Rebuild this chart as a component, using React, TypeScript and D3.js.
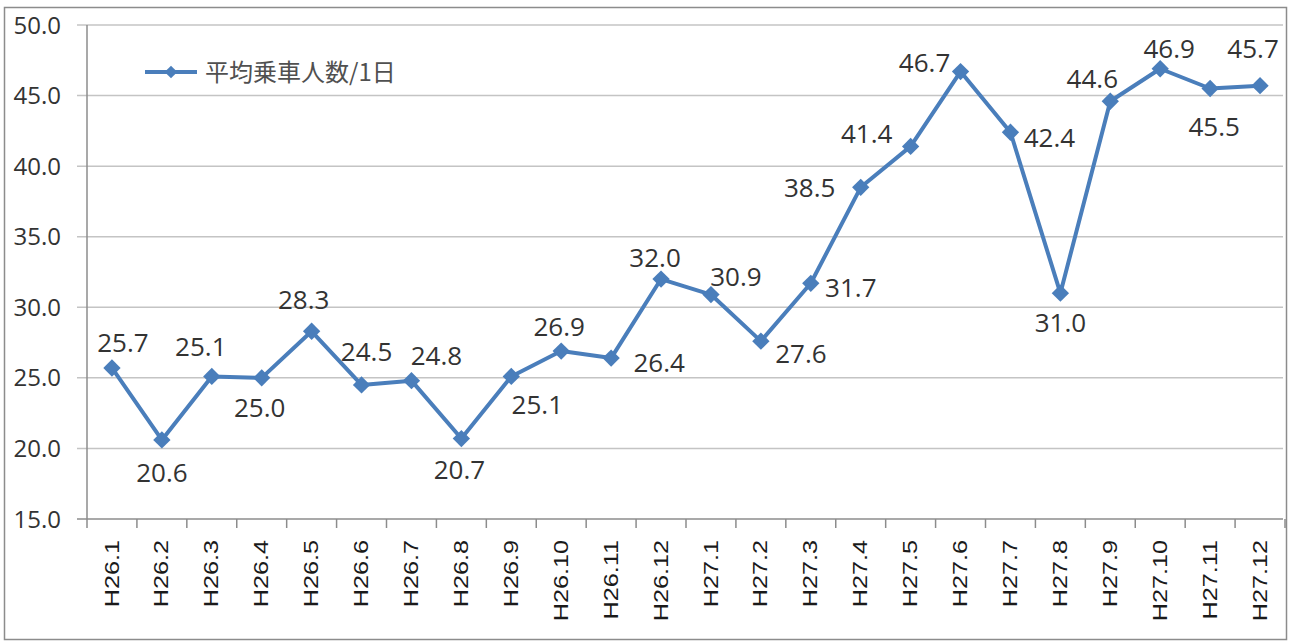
import React, { useEffect, useRef } from 'react';
import * as d3 from 'd3';

const months = [
  'H26.1', 'H26.2', 'H26.3', 'H26.4', 'H26.5', 'H26.6', 'H26.7', 'H26.8', 'H26.9', 'H26.10', 'H26.11', 'H26.12',
  'H27.1', 'H27.2', 'H27.3', 'H27.4', 'H27.5', 'H27.6', 'H27.7', 'H27.8', 'H27.9', 'H27.10', 'H27.11', 'H27.12',
];
const riders = [
  25.7, 20.6, 25.1, 25.0, 28.3, 24.5, 24.8, 20.7, 25.1, 26.9, 26.4, 32.0,
  30.9, 27.6, 31.7, 38.5, 41.4, 46.7, 42.4, 31.0, 44.6, 46.9, 45.5, 45.7,
];
const yTicks = [15, 20, 25, 30, 35, 40, 45, 50];
const seriesName = '平均乗車人数/1日';

// data labels were dragged by hand in the original, offset [dx, dy] from the point
const labelOffsets = [
  [11, -25], [0, 33], [-11, -30], [-2, 30], [-8, -32], [5, -33], [25, -25], [-2, 31],
  [26, 28], [-2, -24], [48, 5], [-6, -21], [25, -18], [40, 12], [40, 4], [-51, 0],
  [-44, -13], [-36, -9], [39, 5], [0, 29], [-18, -23], [9, -20], [4, 38], [-7, -37],
];

const BLUE = '#4A7EBB';
const TEXT = '#333';

export default function App() {
  const ref = useRef<SVGSVGElement>(null);

  useEffect(() => {
    const width = 1293;
    const height = 642;
    const margin = { top: 25, right: 8, bottom: 123, left: 87 };

    const svg = d3.select(ref.current);
    svg.selectAll('*').remove();

    // outer chart frame
    svg
      .append('rect')
      .attr('x', 4.5)
      .attr('y', 7.5)
      .attr('width', 1282)
      .attr('height', 632)
      .attr('fill', '#fff')
      .attr('stroke', '#8c8c8c')
      .attr('stroke-width', 1.5);

    const x = d3
      .scaleBand()
      .domain(months)
      .range([margin.left, width - margin.right]);

    const y = d3
      .scaleLinear()
      .domain([15, 50])
      .range([height - margin.bottom, margin.top]);

    // gridlines + y labels
    const yAxis = svg.append('g');
    yAxis
      .selectAll('line')
      .data(yTicks)
      .enter()
      .append('line')
      .attr('x1', margin.left - 10)
      .attr('x2', width - margin.right - 2)
      .attr('y1', (d) => y(d))
      .attr('y2', (d) => y(d))
      .attr('stroke', (d) => (d === 15 ? '#8c8c8c' : '#c4c4c4'))
      .attr('stroke-width', 1.5);

    yAxis
      .selectAll('text')
      .data(yTicks)
      .enter()
      .append('text')
      .attr('x', 61)
      .attr('y', (d) => y(d))
      .attr('dy', '0.36em')
      .attr('text-anchor', 'end')
      .style('font-family', '"Open Sans", sans-serif')
      .style('font-size', '24px')
      .attr('fill', TEXT)
      .text((d) => d3.format('.1f')(d));

    // value axis line
    svg
      .append('line')
      .attr('x1', margin.left)
      .attr('x2', margin.left)
      .attr('y1', margin.top)
      .attr('y2', y(15))
      .attr('stroke', '#8c8c8c')
      .attr('stroke-width', 1.5);

    // category ticks sit between the bands
    const tickXs = months.map((m) => x(m)!).concat([x.range()[1]]);
    svg
      .append('g')
      .selectAll('line')
      .data(tickXs)
      .enter()
      .append('line')
      .attr('x1', (d) => d)
      .attr('x2', (d) => d)
      .attr('y1', y(15))
      .attr('y2', y(15) + 9)
      .attr('stroke', '#8c8c8c')
      .attr('stroke-width', 1.5);

    const cx = (m: string) => x(m)! + x.bandwidth() / 2;

    svg
      .append('g')
      .selectAll('text')
      .data(months)
      .enter()
      .append('text')
      .attr('transform', (d) => `translate(${cx(d) - 1}, ${y(15) + 21}) scale(1, 1.2) rotate(-90)`)
      .attr('text-anchor', 'end')
      .attr('dy', '0.36em')
      .style('font-family', '"Liberation Sans", Arial, sans-serif')
      .style('font-size', '21px')
      .attr('fill', '#1a1a1a')
      .text((d) => d);

    // series line
    const line = d3
      .line<number>()
      .x((d, i) => cx(months[i]))
      .y((d) => y(d));

    svg
      .append('path')
      .datum(riders)
      .attr('d', line)
      .attr('fill', 'none')
      .attr('stroke', BLUE)
      .attr('stroke-width', 4)
      .attr('stroke-linejoin', 'round');

    const marker = d3.symbol(d3.symbolSquare, 150);
    svg
      .append('g')
      .selectAll('path')
      .data(riders)
      .enter()
      .append('path')
      .attr('d', marker)
      .attr('transform', (d, i) => `translate(${cx(months[i])}, ${y(d)}) rotate(45)`)
      .attr('fill', BLUE);

    svg
      .append('g')
      .selectAll('text')
      .data(riders)
      .enter()
      .append('text')
      .attr('x', (d, i) => cx(months[i]) + labelOffsets[i][0])
      .attr('y', (d, i) => y(d) + labelOffsets[i][1])
      .attr('dy', '0.36em')
      .attr('text-anchor', 'middle')
      .style('font-family', '"Open Sans", sans-serif')
      .style('font-size', '26px')
      .attr('fill', TEXT)
      .text((d) => d3.format('.1f')(d));

    // legend
    const legend = svg.append('g').attr('transform', 'translate(145, 72)');
    legend
      .append('line')
      .attr('x1', 0)
      .attr('x2', 52)
      .attr('stroke', BLUE)
      .attr('stroke-width', 4);
    legend
      .append('path')
      .attr('d', d3.symbol(d3.symbolSquare, 80))
      .attr('transform', 'translate(26, 0) rotate(45)')
      .attr('fill', BLUE);
    legend
      .append('text')
      .attr('x', 60)
      .attr('dy', '0.36em')
      .style('font-family', '"Noto Sans CJK JP", sans-serif')
      .style('font-size', '24px')
      .attr('fill', '#505050')
      .text(seriesName);
  }, []);

  return (
    <svg
      ref={ref}
      width={1293}
      height={642}
      style={{ position: 'absolute', left: 0, top: 0, background: '#fff' }}
    />
  );
}
